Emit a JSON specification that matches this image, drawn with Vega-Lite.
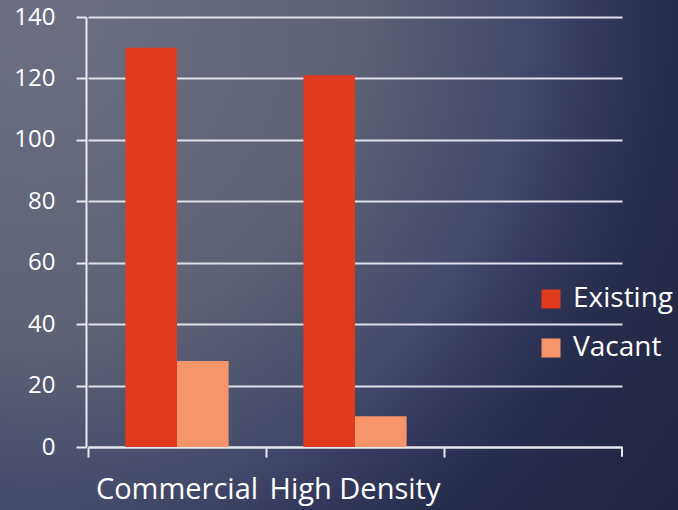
{
  "$schema": "https://vega.github.io/schema/vega-lite/v6.json",
  "width": 678,
  "height": 510,
  "autosize": "none",
  "padding": 0,
  "background": "#2a3050",
  "config": {
    "font": "Open Sans",
    "view": {
      "stroke": null,
      "fill": {
        "gradient": "radial",
        "x1": 0.05, "y1": 0.15, "r1": 0,
        "x2": 0.05, "y2": 0.15, "r2": 1.2,
        "stops": [
          {"offset": 0, "color": "#6c6f82"},
          {"offset": 0.4, "color": "#5d6174"},
          {"offset": 0.6, "color": "#444a6a"},
          {"offset": 0.68, "color": "#353a5e"},
          {"offset": 0.78, "color": "#272d4c"},
          {"offset": 1, "color": "#20243f"}
        ]
      }
    }
  },
  "layer": [
    {
      "data": {
        "values": [
          {"category": "Commercial", "series": "Existing", "value": 130},
          {"category": "Commercial", "series": "Vacant", "value": 28},
          {"category": "High Density", "series": "Existing", "value": 121},
          {"category": "High Density", "series": "Vacant", "value": 10}
        ]
      },
      "mark": {"type": "bar", "stroke": null},
      "encoding": {
        "x": {
          "field": "category",
          "type": "nominal",
          "sort": null,
          "scale": {"domain": ["Commercial", "High Density", ""], "range": [88, 622], "paddingInner": 0, "paddingOuter": 0},
          "axis": {
            "orient": "bottom",
            "offset": -63,
            "bandPosition": 0,
            "title": null,
            "grid": false,
            "domainColor": "#e8e9f0",
            "domainWidth": 2,
            "tickColor": "#e8e9f0",
            "tickWidth": 2,
            "tickSize": 10,
            "labelAngle": 0,
            "labelFontSize": 29,
            "labelColor": "#ffffff",
            "labelPadding": 18
          }
        },
        "y": {
          "field": "value",
          "type": "quantitative",
          "scale": {"domain": [0, 140], "range": [447, 17], "nice": false},
          "axis": {
            "orient": "left",
            "offset": -86,
            "values": [0, 20, 40, 60, 80, 100, 120, 140],
            "title": null,
            "grid": true,
            "gridColor": "#dfe0ea",
            "gridWidth": 2,
            "domainColor": "#e8e9f0",
            "domainWidth": 2,
            "tickColor": "#e8e9f0",
            "tickWidth": 2,
            "tickSize": 10,
            "labelPadding": 21,
            "labelFontSize": 24,
            "labelColor": "#ffffff"
          }
        },
        "xOffset": {
          "field": "series",
          "type": "nominal",
          "scale": {"domain": ["Existing", "Vacant"], "paddingInner": 0, "paddingOuter": 0.725}
        },
        "color": {
          "field": "series",
          "type": "nominal",
          "scale": {"domain": ["Existing", "Vacant"], "range": ["#e23a1c", "#f7956a"]},
          "legend": {
            "title": null,
            "orient": "none",
            "legendX": 537,
            "legendY": 285,
            "symbolType": "square",
            "symbolSize": 361,
            "symbolStrokeWidth": 0,
            "symbolOpacity": 1,
            "labelFontSize": 28,
            "labelColor": "#ffffff",
            "labelOffset": 8,
            "rowPadding": 21
          }
        }
      }
    },
    {
      "data": {"values": [{"category": ""}]},
      "mark": {"type": "rule", "color": "#e8e9f0", "strokeWidth": 2},
      "encoding": {
        "x": {"field": "category", "type": "nominal", "bandPosition": 1},
        "y": {"datum": 0, "type": "quantitative"},
        "y2": {"datum": -3.2}
      }
    }
  ]
}
